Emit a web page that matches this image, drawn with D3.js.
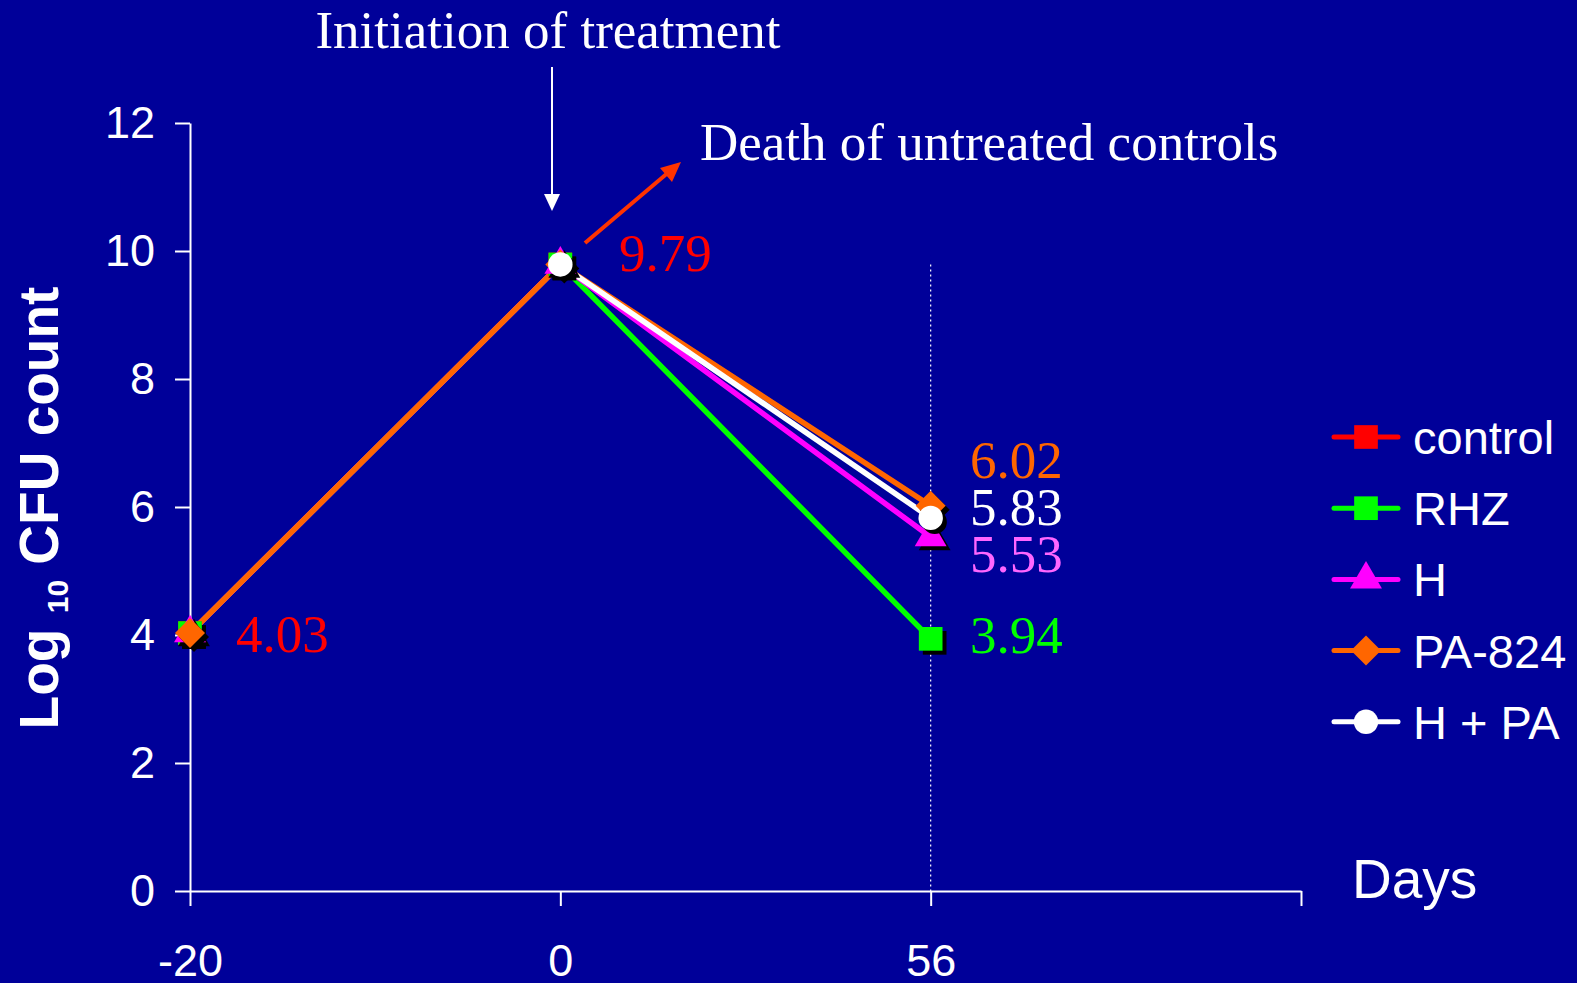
<!doctype html>
<html>
  <head>
    <meta charset="utf-8">
    <title>Log10 CFU count over days</title>
    <script src="https://cdnjs.cloudflare.com/ajax/libs/d3/7.8.5/d3.min.js"></script>
    <style>
      body { margin: 0; background: #000099; }
      svg { display: block; }
    </style>
  </head>
  <body>
    <div id="chart"></div>
    <script>
      // data
      const days = ["-20", "0", "56", ""];
      const seriesNames = ["control", "RHZ", "H", "PA-824", "H + PA"];
      const control = [4.03, 9.79];
      const rhz = [4.03, 9.79, 3.94];
      const hOnly = [4.03, 9.79, 5.53];
      const pa824 = [4.03, 9.79, 6.02];
      const hPlusPa = [null, 9.79, 5.83];
      const yTicks = [0, 2, 4, 6, 8, 10, 12];

      const colors = ["#ff0000", "#00ff00", "#ff00ff", "#ff6600", "#ffffff"];
      // diamond = square turned 45 degrees
      const shapes = [d3.symbolSquare, d3.symbolSquare, d3.symbolTriangle, d3.symbolSquare, d3.symbolCircle];
      const turns = [0, 0, 0, 45, 0];
      const sizes = [560, 560, 440, 450, 470];
      const allValues = [control, rhz, hOnly, pa824, hPlusPa];

      const W = 1577, H = 983;
      const svg = d3.select('#chart').append('svg')
        .attr('width', W).attr('height', H);
      svg.append('rect').attr('width', W).attr('height', H).attr('fill', '#000099');

      const x = d3.scalePoint().domain(days).range([190, 1301]);
      const y = d3.scaleLinear().domain([0, 12]).range([891, 123]);

      // axes
      const yAxis = svg.append('g')
        .attr('transform', 'translate(190,0)')
        .call(d3.axisLeft(y).tickValues(yTicks).tickSize(15).tickPadding(20).tickSizeOuter(0));
      const xAxis = svg.append('g')
        .attr('transform', 'translate(0,891)')
        .call(d3.axisBottom(x).tickSize(15).tickPadding(38).tickSizeOuter(0));
      [yAxis, xAxis].forEach(g => {
        g.selectAll('path, line').attr('stroke', '#ffffff').attr('stroke-width', 2);
        g.selectAll('text').attr('fill', '#ffffff')
          .style('font-family', '"Liberation Sans", Arial, sans-serif')
          .style('font-size', '45px');
      });

      // dotted guide at day 56
      svg.append('line')
        .attr('x1', x("56")).attr('x2', x("56"))
        .attr('y1', y(9.79)).attr('y2', y(0))
        .attr('stroke', '#ffffff').attr('stroke-width', 1.2)
        .attr('stroke-dasharray', '2,3');

      // lines
      const line = d3.line()
        .defined(d => d != null)
        .x((d, i) => x(days[i]))
        .y(d => y(d));
      allValues.forEach((vals, s) => {
        svg.append('path')
          .datum(vals)
          .attr('d', line)
          .attr('fill', 'none')
          .attr('stroke', colors[s])
          .attr('stroke-width', 5.5);
      });

      // markers with black drop shadow
      allValues.forEach((vals, s) => {
        const pts = vals.map((v, i) => ({ v, i })).filter(p => p.v != null);
        const sym = d3.symbol().type(shapes[s]).size(sizes[s]);
        svg.selectAll(null).data(pts).join('path')
          .attr('d', sym)
          .attr('transform', p => `translate(${x(days[p.i]) + 4},${y(p.v) + 4}) rotate(${turns[s]})`)
          .attr('fill', '#000000');
        svg.selectAll(null).data(pts).join('path')
          .attr('d', sym)
          .attr('transform', p => `translate(${x(days[p.i])},${y(p.v)}) rotate(${turns[s]})`)
          .attr('fill', colors[s]);
      });

      // value labels
      const serif = '"Liberation Serif", "Times New Roman", serif';
      const valueLabels = [
        { t: "4.03", x: 236, y: 652, c: "#ff0000" },
        { t: "9.79", x: 619, y: 271, c: "#ff0000" },
        { t: "6.02", x: 970, y: 478, c: "#ff6600" },
        { t: "5.83", x: 970, y: 525, c: "#ffffff" },
        { t: "5.53", x: 970, y: 572, c: "#ff66ff" },
        { t: "3.94", x: 970, y: 653, c: "#00ff00" }
      ];
      svg.selectAll(null).data(valueLabels).join('text')
        .attr('x', d => d.x).attr('y', d => d.y)
        .attr('fill', d => d.c)
        .style('font-family', serif).style('font-size', '53px')
        .text(d => d.t);

      // annotations
      svg.append('text')
        .attr('x', 548).attr('y', 48)
        .attr('text-anchor', 'middle')
        .attr('fill', '#ffffff')
        .style('font-family', serif).style('font-size', '53px')
        .text('Initiation of treatment');
      svg.append('text')
        .attr('x', 700).attr('y', 160)
        .attr('fill', '#ffffff')
        .style('font-family', serif).style('font-size', '53px')
        .text('Death of untreated controls');

      // white arrow down to day 0
      svg.append('line')
        .attr('x1', 552).attr('y1', 67).attr('x2', 552).attr('y2', 196)
        .attr('stroke', '#ffffff').attr('stroke-width', 2);
      svg.append('path')
        .attr('d', 'M544,194 L560,194 L552,211 Z')
        .attr('fill', '#ffffff');

      // red arrow to "Death of untreated controls"
      svg.append('line')
        .attr('x1', 585).attr('y1', 243).attr('x2', 670).attr('y2', 171)
        .attr('stroke', '#ff3300').attr('stroke-width', 4);
      svg.append('path')
        .attr('d', 'M681,162 L660,168 L672,182 Z')
        .attr('fill', '#ff3300');

      // axis titles
      const yTitle = svg.append('text')
        .attr('transform', 'translate(58,508) rotate(-90)')
        .attr('text-anchor', 'middle')
        .attr('fill', '#ffffff')
        .style('font-family', '"Liberation Sans", Arial, sans-serif')
        .style('font-size', '55px').style('font-weight', 'bold');
      yTitle.append('tspan').text('Log ');
      yTitle.append('tspan').attr('dy', 10).style('font-size', '30px').text('10');
      yTitle.append('tspan').attr('dy', -10).text(' CFU count');

      svg.append('text')
        .attr('x', 1352).attr('y', 898)
        .attr('fill', '#ffffff')
        .style('font-family', '"Liberation Sans", Arial, sans-serif')
        .style('font-size', '55px')
        .text('Days');

      // legend
      const legend = svg.append('g');
      seriesNames.forEach((name, s) => {
        const ly = 437 + s * 71.2;
        legend.append('line')
          .attr('x1', 1334).attr('x2', 1398).attr('y1', ly).attr('y2', ly)
          .attr('stroke', colors[s]).attr('stroke-width', 5)
          .attr('stroke-linecap', 'round');
        legend.append('path')
          .attr('d', d3.symbol().type(shapes[s]).size(sizes[s])())
          .attr('transform', `translate(1366,${ly}) rotate(${turns[s]})`)
          .attr('fill', colors[s]);
        legend.append('text')
          .attr('x', 1413).attr('y', ly + 17)
          .attr('fill', '#ffffff')
          .style('font-family', '"Liberation Sans", Arial, sans-serif')
          .style('font-size', '47px')
          .text(name);
      });
    </script>
  </body>
</html>
